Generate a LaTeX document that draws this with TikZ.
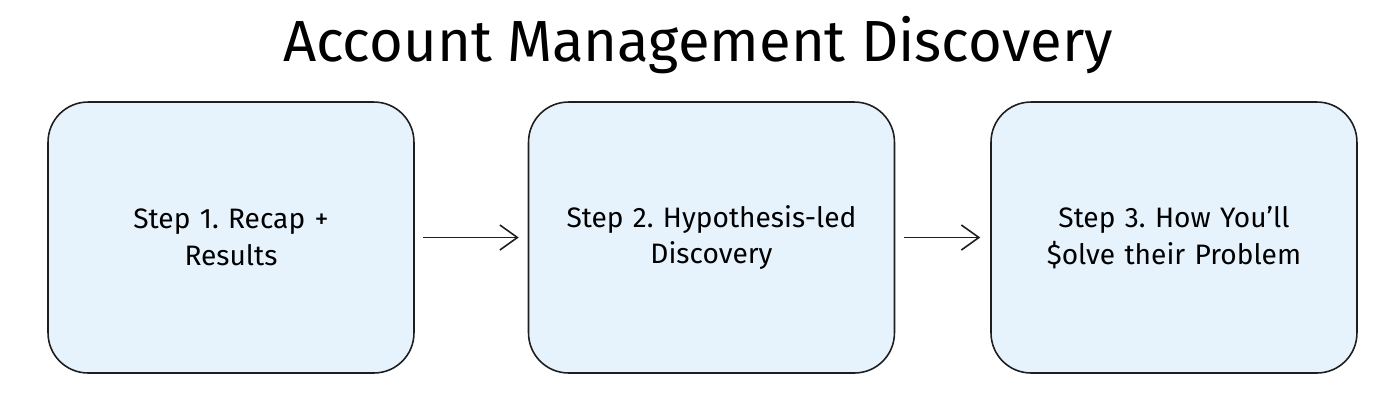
\documentclass[tikz,border=0pt]{standalone}
\usepackage{fontspec}
\setmainfont{Fira Sans}
\usetikzlibrary{positioning,arrows.meta}
\definecolor{stepfill}{HTML}{E7F3FC}
\definecolor{stepline}{HTML}{1E1E1E}
\frenchspacing
\begin{document}
\begin{tikzpicture}[x=0.02cm, y=-0.02cm]
    \tikzstyle{stepbox} = [rectangle, rounded corners=0.8cm, minimum width=7.32cm, minimum height=5.42cm, text width=6.6cm, align=center, draw=stepline, line width=0.9pt, fill=stepfill, font=\fontsize{16}{21}\selectfont]
    \tikzstyle{flow} = [-{Straight Barb[length=0.35cm, width=0.5cm]}, draw=stepline, line width=0.9pt]
    \useasboundingbox (0,0) rectangle (1382,414);

    % Title
    \node [font=\fontsize{33}{38}\selectfont] (title) at (698,45) {Account Management Discovery};

    % Steps
    \node [stepbox] (recap) at (231,237.5) {Step 1. Recap +\\Results};
    \node [stepbox, right=2.26cm of recap] (hypo) {Step 2. Hypothesis-led\\Discovery};
    \node [stepbox, right=1.9cm of hypo] (solve) {Step 3. How You'll\\ \$olve their Problem};

    % Connections
    \draw [flow] ([xshift=0.16cm]recap.east) -- ([xshift=-0.18cm]hypo.west);
    \draw [flow] ([xshift=0.18cm]hypo.east) -- ([xshift=-0.2cm]solve.west);
\end{tikzpicture}
\end{document}
